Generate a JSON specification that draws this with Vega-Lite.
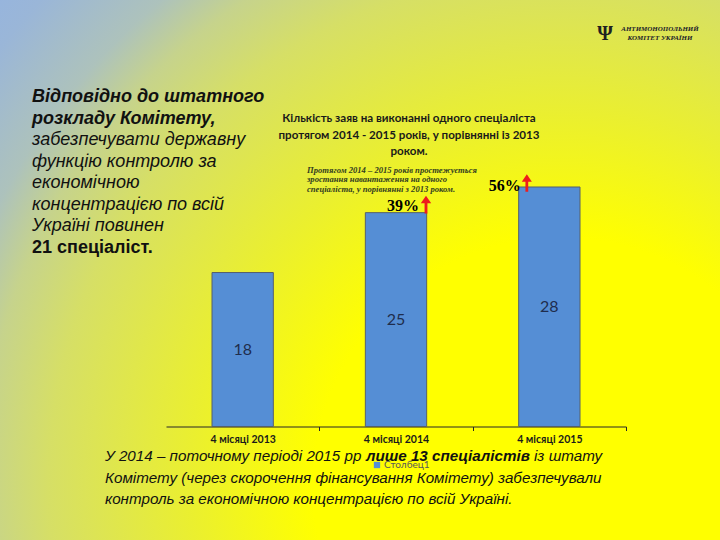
{
  "$schema": "https://vega.github.io/schema/vega-lite/v6.json",
  "width": 720,
  "height": 540,
  "autosize": {"type": "fit", "contains": "padding"},
  "padding": 0,
  "background": "#e4ea45",
  "view": {
    "stroke": null,
    "fill": {
      "gradient": "radial",
      "x1": 0.78, "y1": 0.8, "r1": 0,
      "x2": 0.78, "y2": 0.8, "r2": 1.15,
      "stops": [
        {"offset": 0, "color": "#ffff00"},
        {"offset": 0.3, "color": "#ffff00"},
        {"offset": 0.45, "color": "#eaef30"},
        {"offset": 0.62, "color": "#d6df66"},
        {"offset": 0.7, "color": "#c6d38c"},
        {"offset": 0.76, "color": "#adc2bc"},
        {"offset": 0.86, "color": "#9ab6d8"},
        {"offset": 1, "color": "#8fb2ea"}
      ]
    }
  },
  "datasets": {
    "bars": [
      {"period": "4 місяці 2013", "value": 18, "series": "Столбец1"},
      {"period": "4 місяці 2014", "value": 25, "series": "Столбец1"},
      {"period": "4 місяці 2015", "value": 28, "series": "Столбец1"}
    ],
    "growth": [
      {"period": "4 місяці 2014", "value": 25, "pct": "39%"},
      {"period": "4 місяці 2015", "value": 28, "pct": "56%"}
    ]
  },
  "resolve": {"scale": {"y": "independent"}},
  "layer": [
    {
      "data": {"name": "bars"},
      "mark": {"type": "bar", "stroke": "#56606b", "strokeWidth": 1},
      "encoding": {
        "x": {
          "field": "period", "type": "nominal", "sort": null,
          "scale": {"type": "band", "range": [166, 626], "paddingInner": 0.6, "paddingOuter": 0.3},
          "axis": {
            "title": null, "orient": "bottom", "offset": -113.5, "grid": false,
            "domainColor": "#262626", "domainWidth": 1,
            "tickColor": "#262626", "tickSize": 4, "tickOffset": 76.75,
            "labelOffset": -76.75, "labelAngle": 0, "labelPadding": 4,
            "labelFont": "Lato", "labelFontWeight": "bold", "labelFontSize": 10.5, "labelColor": "#1a1a1a"
          }
        },
        "y": {
          "field": "value", "type": "quantitative",
          "scale": {"domain": [-13.27, 49.86], "nice": false, "zero": false},
          "axis": null
        },
        "y2": {"datum": 0},
        "color": {
          "field": "series", "type": "nominal",
          "scale": {"range": ["#558ed5"]},
          "legend": {
            "orient": "none", "legendX": 372, "legendY": 460, "title": null,
            "symbolType": "square", "symbolSize": 40, "symbolStrokeWidth": 0,
            "labelFont": "Lato", "labelFontSize": 10, "labelColor": "#595959", "labelOffset": 2, "padding": 0
          }
        }
      }
    },
    {
      "data": {"name": "bars"},
      "mark": {"type": "text", "font": "Lato", "fontSize": 16, "color": "#1f2d4d", "baseline": "middle", "align": "center"},
      "encoding": {
        "x": {"field": "period", "type": "nominal", "sort": null},
        "y": {
          "field": "value", "type": "quantitative",
          "scale": {"domain": [-26.54, 99.72], "nice": false, "zero": false},
          "axis": null
        },
        "text": {"field": "value", "type": "quantitative"}
      }
    },
    {
      "data": {"name": "growth"},
      "transform": [{"filter": "datum.pct === '39%'"}],
      "mark": {"type": "text", "font": "Liberation Serif", "fontWeight": "bold", "fontSize": 16, "color": "#000000", "align": "center", "baseline": "alphabetic", "dx": 7, "dy": -2},
      "encoding": {
        "x": {"field": "period", "type": "nominal", "sort": null},
        "y": {"field": "value", "type": "quantitative", "scale": {"domain": [-13.27, 49.86], "nice": false, "zero": false}, "axis": null},
        "text": {"field": "pct"}
      }
    },
    {
      "data": {"name": "growth"},
      "transform": [{"filter": "datum.pct === '56%'"}],
      "mark": {"type": "text", "font": "Liberation Serif", "fontWeight": "bold", "fontSize": 16, "color": "#000000", "align": "center", "baseline": "alphabetic", "dx": -44.5, "dy": 4},
      "encoding": {
        "x": {"field": "period", "type": "nominal", "sort": null},
        "y": {"field": "value", "type": "quantitative", "scale": {"domain": [-13.27, 49.86], "nice": false, "zero": false}, "axis": null},
        "text": {"field": "pct"}
      }
    },
    {
      "data": {"name": "growth"},
      "transform": [{"filter": "datum.pct === '39%'"}],
      "mark": {"type": "point", "shape": "M0,-1L0.58,-0.15L0.16,-0.15L0.16,1L-0.16,1L-0.16,-0.15L-0.58,-0.15Z", "filled": true, "size": 320, "color": "#ee1c1c", "opacity": 1, "xOffset": 30, "yOffset": -8},
      "encoding": {
        "x": {"field": "period", "type": "nominal", "sort": null},
        "y": {"field": "value", "type": "quantitative", "scale": {"domain": [-13.27, 49.86], "nice": false, "zero": false}, "axis": null}
      }
    },
    {
      "data": {"name": "growth"},
      "transform": [{"filter": "datum.pct === '56%'"}],
      "mark": {"type": "point", "shape": "M0,-1L0.58,-0.15L0.16,-0.15L0.16,1L-0.16,1L-0.16,-0.15L-0.58,-0.15Z", "filled": true, "size": 300, "color": "#ee1c1c", "opacity": 1, "xOffset": -22.5, "yOffset": -4},
      "encoding": {
        "x": {"field": "period", "type": "nominal", "sort": null},
        "y": {"field": "value", "type": "quantitative", "scale": {"domain": [-13.27, 49.86], "nice": false, "zero": false}, "axis": null}
      }
    },
    {
      "data": {"values": [{"t": "Кількість заяв на виконанні одного спеціаліста\nпротягом 2014 - 2015 років, у порівнянні із 2013\nроком."}]},
      "mark": {"type": "text", "lineBreak": "\n", "lineHeight": 16.5, "font": "Lato", "fontWeight": "bold", "fontSize": 11.6, "color": "#1a1a1a", "align": "center", "baseline": "alphabetic", "dx": 49, "dy": -148},
      "encoding": {"text": {"field": "t"}}
    },
    {
      "data": {"values": [{"t": "Протягом 2014 – 2015 років простежується\nзростання навантаження на одного\nспеціаліста, у порівнянні з 2013 роком."}]},
      "mark": {"type": "text", "lineBreak": "\n", "lineHeight": 9.5, "font": "Liberation Serif", "fontWeight": "bold", "fontStyle": "italic", "fontSize": 8.6, "color": "#333d20", "align": "left", "baseline": "alphabetic", "dx": -53, "dy": -97.5},
      "encoding": {"text": {"field": "t"}}
    },
    {
      "data": {"values": [{"t": "Відповідно до штатного\nрозкладу Комітету,"}]},
      "mark": {"type": "text", "lineBreak": "\n", "lineHeight": 21.6, "font": "Liberation Sans", "fontWeight": "bold", "fontStyle": "italic", "fontSize": 18, "color": "#111111", "align": "left", "baseline": "alphabetic", "dx": -328, "dy": -168},
      "encoding": {"text": {"field": "t"}}
    },
    {
      "data": {"values": [{"t": "забезпечувати державну\nфункцію контролю за\nекономічною\nконцентрацією по всій\nУкраїні повинен"}]},
      "mark": {"type": "text", "lineBreak": "\n", "lineHeight": 21.6, "font": "Liberation Sans", "fontStyle": "italic", "fontSize": 18, "color": "#111111", "align": "left", "baseline": "alphabetic", "dx": -328, "dy": -125},
      "encoding": {"text": {"field": "t"}}
    },
    {
      "data": {"values": [{"t": "21 спеціаліст."}]},
      "mark": {"type": "text", "font": "Liberation Sans", "fontWeight": "bold", "fontSize": 18, "color": "#111111", "align": "left", "baseline": "alphabetic", "dx": -328, "dy": -17},
      "encoding": {"text": {"field": "t"}}
    },
    {
      "data": {"values": [{"t": "У 2014 – поточному періоді 2015 рр"}]},
      "mark": {"type": "text", "font": "Liberation Sans", "fontStyle": "italic", "fontSize": 15.2, "color": "#111111", "align": "left", "baseline": "alphabetic", "dx": -255, "dy": 191},
      "encoding": {"text": {"field": "t"}}
    },
    {
      "data": {"values": [{"t": "лише 13 спеціалістів"}]},
      "mark": {"type": "text", "font": "Liberation Sans", "fontStyle": "italic", "fontWeight": "bold", "fontSize": 15.2, "color": "#111111", "align": "left", "baseline": "alphabetic", "dx": 6, "dy": 191},
      "encoding": {"text": {"field": "t"}}
    },
    {
      "data": {"values": [{"t": "із штату"}]},
      "mark": {"type": "text", "font": "Liberation Sans", "fontStyle": "italic", "fontSize": 15.2, "color": "#111111", "align": "left", "baseline": "alphabetic", "dx": 174, "dy": 191},
      "encoding": {"text": {"field": "t"}}
    },
    {
      "data": {"values": [{"t": "Комітету (через скорочення фінансування Комітету) забезпечували\nконтроль за економічною концентрацією по всій Україні."}]},
      "mark": {"type": "text", "lineBreak": "\n", "lineHeight": 21.5, "font": "Liberation Sans", "fontStyle": "italic", "fontSize": 15.2, "color": "#111111", "align": "left", "baseline": "alphabetic", "dx": -255, "dy": 212.5},
      "encoding": {"text": {"field": "t"}}
    },
    {
      "data": {"values": [{"t": "АНТИМОНОПОЛЬНИЙ\nКОМІТЕТ УКРАЇНИ"}]},
      "mark": {"type": "text", "lineBreak": "\n", "lineHeight": 9, "font": "Liberation Serif", "fontWeight": "bold", "fontStyle": "italic", "fontSize": 7, "color": "#1a1a2a", "align": "center", "baseline": "alphabetic", "dx": 300, "dy": -239.5},
      "encoding": {"text": {"field": "t"}}
    },
    {
      "data": {"values": [{"t": "Ψ"}]},
      "mark": {"type": "text", "font": "Liberation Serif", "fontWeight": "bold", "fontSize": 20, "color": "#202020", "align": "center", "baseline": "alphabetic", "dx": 245, "dy": -230},
      "encoding": {"text": {"field": "t"}}
    }
  ]
}
